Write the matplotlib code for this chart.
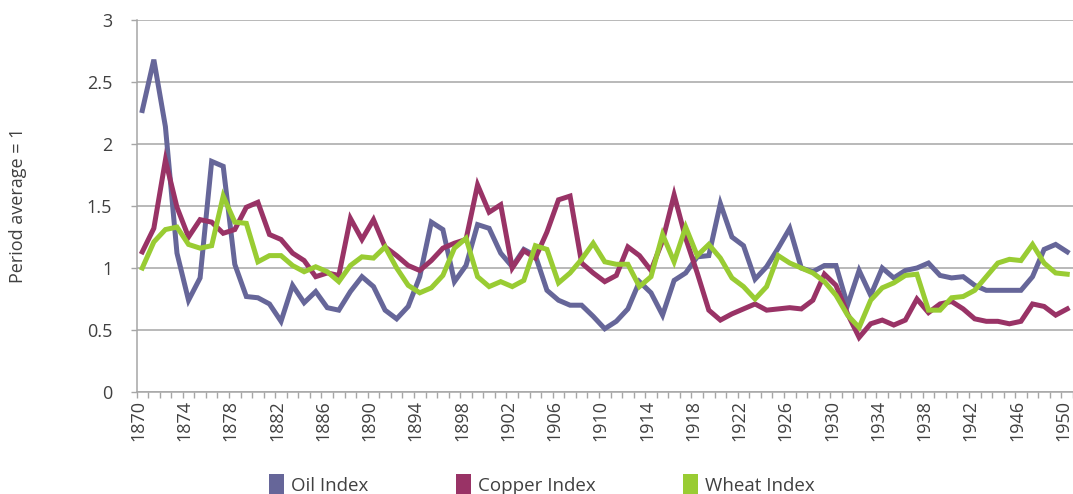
import matplotlib
matplotlib.use("Agg")
import matplotlib.pyplot as plt
import matplotlib.transforms as mtransforms
from matplotlib.patches import Patch
import numpy as np

# --- Data ---
years = list(range(1870, 1951))

oil_index = [
    2.27, 2.68, 2.14, 1.12, 0.74, 0.92, 1.86, 1.82, 1.03, 0.77,
    0.76, 0.71, 0.57, 0.86, 0.72, 0.81, 0.68, 0.66, 0.81, 0.93,
    0.85, 0.66, 0.59, 0.69, 0.93, 1.37, 1.31, 0.89, 1.02, 1.35,
    1.32, 1.12, 1.01, 1.15, 1.10, 0.82, 0.74, 0.70, 0.70, 0.61,
    0.51, 0.57, 0.67, 0.89, 0.80, 0.62, 0.90, 0.96, 1.09, 1.10,
    1.52, 1.25, 1.18, 0.91, 1.01, 1.16, 1.32, 1.00, 0.97, 1.02,
    1.02, 0.70, 0.98, 0.78, 1.00, 0.92, 0.98, 1.00, 1.04, 0.94,
    0.92, 0.93, 0.86, 0.82, 0.82, 0.82, 0.82, 0.93, 1.15, 1.19,
    1.13,
]

copper_index = [
    1.13, 1.32, 1.87, 1.49, 1.25, 1.39, 1.37, 1.28, 1.31, 1.49,
    1.53, 1.27, 1.23, 1.12, 1.06, 0.93, 0.96, 0.94, 1.40, 1.23,
    1.39, 1.17, 1.10, 1.02, 0.98, 1.06, 1.16, 1.20, 1.23, 1.67,
    1.45, 1.51, 1.00, 1.14, 1.08, 1.29, 1.55, 1.58, 1.04, 0.96,
    0.89, 0.94, 1.17, 1.10, 0.98, 1.22, 1.59, 1.24, 0.96, 0.66,
    0.58, 0.63, 0.67, 0.71, 0.66, 0.67, 0.68, 0.67, 0.74, 0.95,
    0.86, 0.63, 0.44, 0.55, 0.58, 0.54, 0.58, 0.75, 0.64, 0.71,
    0.73, 0.67, 0.59, 0.57, 0.57, 0.55, 0.57, 0.71, 0.69, 0.62,
    0.67,
]

wheat_index = [
    1.00, 1.21, 1.31, 1.33, 1.19, 1.16, 1.18, 1.58, 1.37, 1.36,
    1.05, 1.10, 1.10, 1.02, 0.97, 1.01, 0.97, 0.89, 1.02, 1.09,
    1.08, 1.17, 1.00, 0.86, 0.80, 0.84, 0.94, 1.16, 1.24, 0.93,
    0.85, 0.89, 0.85, 0.90, 1.18, 1.15, 0.88, 0.96, 1.07, 1.20,
    1.05, 1.03, 1.03, 0.85, 0.93, 1.27, 1.05, 1.33, 1.10, 1.19,
    1.08, 0.92, 0.85, 0.75, 0.85, 1.10, 1.04, 1.00, 0.96, 0.89,
    0.78, 0.62, 0.52, 0.74, 0.84, 0.88, 0.94, 0.95, 0.66, 0.66,
    0.76, 0.77, 0.82, 0.93, 1.04, 1.07, 1.06, 1.19, 1.04, 0.96,
    0.95,
]

series = [
    ("Oil Index", oil_index, "#666699"),
    ("Copper Index", copper_index, "#993366"),
    ("Wheat Index", wheat_index, "#99cc33"),
]

plt.rcParams["font.family"] = ["Open Sans", "DejaVu Sans"]
text_color = "#404040"
grid_color = "#a6a6a6"

# --- Figure ---
W, H = 1073, 494
fig = plt.figure(figsize=(W / 100, H / 100), dpi=100)
ax = fig.add_axes([136.5 / W, (H - 392) / H, 936.5 / W, 372 / H])

for name, values, color in series:
    ax.plot(years, values, color=color, linewidth=3.6, label=name,
            solid_joinstyle="miter")

ax.set_xlim(1869.5, 1950.25)
ax.set_ylim(0, 3)

# y axis
ax.set_yticks(np.arange(0, 3.01, 0.5))
ax.set_yticklabels(["0", "0.5", "1", "1.5", "2", "2.5", "3"])
ax.yaxis.grid(True, color=grid_color, linewidth=1.1)
ax.set_axisbelow(True)
ax.tick_params(axis="y", length=4.5, width=1, color=grid_color, pad=13,
               labelsize=13, labelcolor=text_color)

# x axis: category ticks between years, labels every 4 years
ax.set_xticks(years[::4])
ax.set_xticklabels([str(y) for y in years[::4]], rotation=90)
ax.set_xticks(np.arange(1869.5, 1951, 1), minor=True)
ax.tick_params(axis="x", which="major", length=0, pad=6,
               labelsize=13, labelcolor=text_color)
ax.tick_params(axis="x", which="minor", length=4.5, width=1, color=grid_color)
shift = mtransforms.ScaledTranslation(-4 / 100, 0, fig.dpi_scale_trans)
for lbl in ax.get_xticklabels():
    lbl.set_transform(lbl.get_transform() + shift)

for side in ["top", "right"]:
    ax.spines[side].set_visible(False)
for side in ["left", "bottom"]:
    ax.spines[side].set_color(grid_color)
    ax.spines[side].set_linewidth(1.1)

fig.text(18 / W, 1 - 205 / H, "Period average = 1", rotation=90,
         ha="center", va="center", fontsize=13, color=text_color)

handles = [Patch(facecolor=c, edgecolor="none") for _, _, c in series]
fig.legend(handles, [n for n, _, _ in series], loc="lower center",
           bbox_to_anchor=(0.505, -0.036), ncol=3, frameon=False,
           fontsize=13.5, labelcolor=text_color, handlelength=0.8,
           handleheight=1.3, handletextpad=0.35, columnspacing=4.7)

fig.savefig("out.png", dpi=100)
